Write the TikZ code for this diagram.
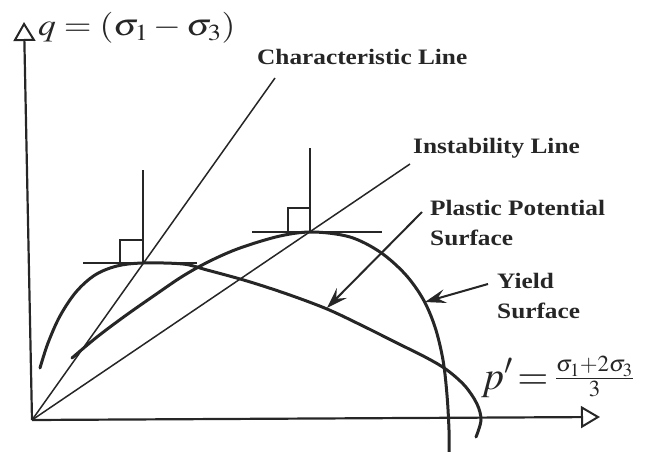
\documentclass[tikz,border=0pt]{standalone}
\usepackage{mathptmx}
\usepackage{fontspec}
\newfontfamily\labfont{Liberation Serif}[FakeStretch=1.15]
\usetikzlibrary{arrows.meta}
\begin{document}
\begin{tikzpicture}[x=1pt,y=-1pt,
  ink/.style={draw=black!85},
  axisline/.style={ink,line width=2.2pt,-{Triangle[open,length=19pt,width=22pt,line width=2pt,fill=white]}},
  thinline/.style={ink,line width=1.5pt},
  tangent/.style={ink,line width=2.6pt},
  normalline/.style={ink,line width=1.8pt},
  surf/.style={ink,line width=3pt,line cap=round},
  lbl/.style={font=\labfont\bfseries\fontsize{22}{30}\selectfont,inner sep=0pt,anchor=north west,align=left,text=black!85},
  mlbl/.style={inner sep=0pt,anchor=base west,text=black!85},
  pointer/.style={ink,line width=2pt,-{Stealth[length=21pt,width=14pt,inset=8pt]}}]
\useasboundingbox (0,0) rectangle (646,452);
% axes
\coordinate (O) at (32,420);
\coordinate (ytop) at (24,22);
\coordinate (xend) at (600,417);
\draw[axisline] (O) -- (ytop);
\draw[axisline] (O) -- (xend);
\node[mlbl] (ql) at (38,36) {\scalebox{1.15}[1]{\fontsize{31}{34}\selectfont$q=(\sigma_1-\sigma_3)$}};
\node[mlbl] (pl) at (481,389) {\fontsize{40}{44}\selectfont$p'\!=$\,\raisebox{3pt}{\fontsize{31}{34}\selectfont$\frac{\sigma_1+2\sigma_3}{3}$}};
% lines from origin
\coordinate (cl) at (275,78);
\coordinate (il) at (410,164);
\draw[thinline] (O) -- (cl);
\draw[thinline] (O) -- (il);
% tangents, normals, right-angle marks
\coordinate (t1) at (143,263);
\coordinate (t2) at (310,232);
\draw[tangent] (83,263) -- (197,263);
\draw[normalline] (t1) -- (143,170);
\draw[normalline] (120,263) -- (120,240) -- (143,240);
\draw[tangent] (252,232) -- (382,232);
\draw[normalline] (t2) -- (310,148);
\draw[normalline] (288,232) -- (288,208) -- (310,208);
% plastic potential surface
\draw[surf] plot[smooth,tension=0.55] coordinates {(40,368) (48,343) (60,316) (76,292) (95,275) (117,266) (143,263) (183,264) (207,270) (247,281) (287,294) (327,309) (363,326) (397,343) (427,358) (447,370) (465,386) (477,404) (481,420) (476,437)};
% yield surface
\draw[surf] plot[smooth,tension=0.55] coordinates {(72,358) (97,337) (125,316) (155,295) (183,276) (210,261) (240,248) (280,236) (313,232) (350,237) (380,252) (405,274) (423,299) (435,327) (443,360) (447,395) (449,430) (449,452)};
% labels
\node[lbl] (chl) at (257,49) {Characteristic Line};
\node[lbl] (inl) at (413,138) {Instability Line};
\node[lbl] (ppl) at (430,200) {Plastic Potential\\Surface};
\node[lbl] (yll) at (497,273) {Yield\\Surface};
\coordinate (pa) at (422,212);
\coordinate (pt) at (327,308);
\coordinate (ya) at (488,284);
\coordinate (yt) at (425,302);
\draw[pointer] (pa) -- (pt);
\draw[pointer] (ya) -- (yt);
\end{tikzpicture}
\end{document}
